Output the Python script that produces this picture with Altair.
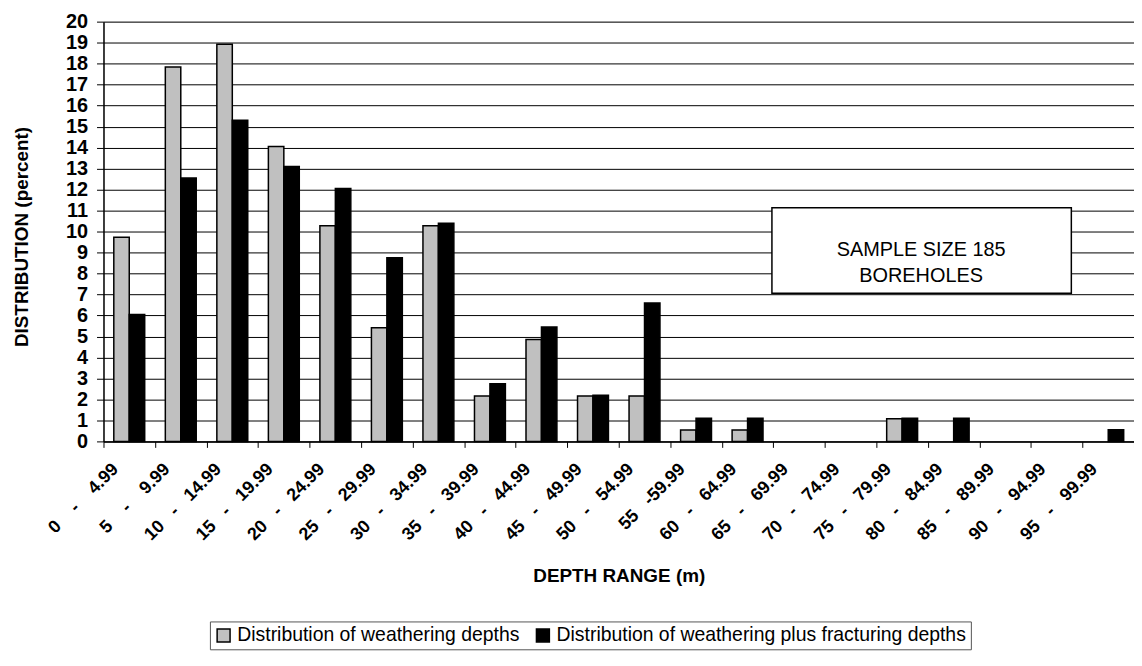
import altair as alt
import pandas as pd

# ---- data ----
depth_ranges = ["0 - 4.99", "5 - 9.99", "10 - 14.99", "15 - 19.99", "20 - 24.99",
                "25 - 29.99", "30 - 34.99", "35 - 39.99", "40 - 44.99", "45 - 49.99",
                "50 - 54.99", "55 -59.99", "60 - 64.99", "65 - 69.99", "70 - 74.99",
                "75 - 79.99", "80 - 84.99", "85 - 89.99", "90 - 94.99", "95 - 99.99"]
weathering = [9.73, 17.84, 18.92, 14.05, 10.27, 5.41, 10.27, 2.16, 4.86, 2.16,
              2.16, 0.54, 0.54, 0.0, 0.0, 1.08, 0.0, 0.0, 0.0, 0.0]
weathering_fracturing = [6.05, 12.55, 15.3, 13.1, 12.05, 8.75, 10.4, 2.75, 5.45, 2.2,
                         6.6, 1.1, 1.1, 0.0, 0.0, 1.1, 1.1, 0.0, 0.0, 0.55]
series_names = ["Distribution of weathering depths",
                "Distribution of weathering plus fracturing depths"]
series_colors = ["#C0C0C0", "#000000"]
y_ticks = list(range(0, 21))
note_lines = ["SAMPLE SIZE 185", "BOREHOLES"]

FONT = "Liberation Sans"
NB = "\u00a0"


def spaced(label):
    # reproduce the wide spacing of the original category labels
    left, right = label.split("-")
    tight_after = not right.startswith(" ")
    left = left.strip()
    right = right.strip()
    if tight_after:
        return left + NB * 3 + "-" + right
    n = 4 if len(left) == 1 else 3
    return left + NB * n + "-" + NB * n + right


display_labels = [spaced(l) for l in depth_ranges]

rows = []
for i, lab in enumerate(display_labels):
    rows.append({"range": lab, "series": series_names[0], "value": weathering[i]})
    rows.append({"range": lab, "series": series_names[1], "value": weathering_fracturing[i]})
df = pd.DataFrame(rows)

bars = alt.Chart(df).transform_filter(
    alt.datum.value > 0
).mark_bar(stroke="black", strokeWidth=1.5).encode(
    x=alt.X(
        "range:N",
        sort=display_labels,
        scale=alt.Scale(domain=display_labels, paddingInner=0, paddingOuter=0),
        axis=alt.Axis(
            title="DEPTH RANGE (m)",
            titleFont=FONT, titleFontSize=19, titleFontWeight="bold", titleColor="black",
            titleY=141, titleBaseline="alphabetic",
            labelAngle=-45, labelAlign="right", labelBaseline="middle",
            labelFont=FONT, labelFontSize=18, labelFontWeight="bold", labelColor="black",
            labelPadding=19, labelOffset=-14, labelOverlap=False, labelLimit=0,
            tickBand="extent", tickSize=6, tickColor="black", tickWidth=1,
            domainColor="black", domainWidth=1.5, grid=False,
        ),
    ),
    xOffset=alt.XOffset(
        "series:N", sort=series_names,
        scale=alt.Scale(domain=series_names, paddingInner=0, paddingOuter=0.667),
    ),
    y=alt.Y(
        "value:Q",
        scale=alt.Scale(domain=[0, 20], nice=False),
        axis=alt.Axis(
            values=y_ticks, format="d",
            title="DISTRIBUTION (percent)",
            titleFont=FONT, titleFontSize=19, titleFontWeight="bold", titleColor="black",
            titleX=-82, titleY=216, titleBaseline="middle",
            labelFont=FONT, labelFontSize=20, labelFontWeight="bold", labelColor="black",
            labelPadding=9, tickSize=7, tickColor="black",
            domainColor="black", domainWidth=1.5,
            grid=True, gridColor="black", gridWidth=1, gridOpacity=1,
        ),
    ),
    color=alt.Color(
        "series:N",
        sort=series_names,
        scale=alt.Scale(domain=series_names, range=series_colors),
        legend=alt.Legend(
            title=None, orient="none", legendX=107, legendY=603,
            direction="horizontal",
            symbolType="square", symbolSize=169,
            symbolStrokeColor="black", symbolStrokeWidth=1.5,
            labelFont=FONT, labelFontSize=19.5, labelColor="black", labelLimit=0,
            labelOffset=4, columnPadding=13, padding=4,
            strokeColor="#555555",
        ),
    ),
)

note_df = pd.DataFrame({"note": ["\n".join(note_lines)]})

note_box = alt.Chart(note_df).mark_rect(
    fill="white", stroke="black", strokeWidth=1.5
).encode(
    x=alt.value(672), x2=alt.value(973), y=alt.value(187), y2=alt.value(273)
)

note_text = alt.Chart(note_df).mark_text(
    font=FONT, fontSize=20, color="black", align="center", baseline="middle",
    lineBreak="\n", lineHeight=26,
).encode(
    x=alt.value(822), y=alt.value(230), text="note:N"
)

chart = alt.layer(bars, note_box, note_text).properties(
    width=1036, height=422,
    padding={"left": 96, "top": 12, "right": 0, "bottom": 210},
    autosize=alt.AutoSizeParams(type="none"),
).configure_view(stroke=None).configure(background="white")

chart.save("out.html", embed_options={"renderer": "svg", "actions": False})
